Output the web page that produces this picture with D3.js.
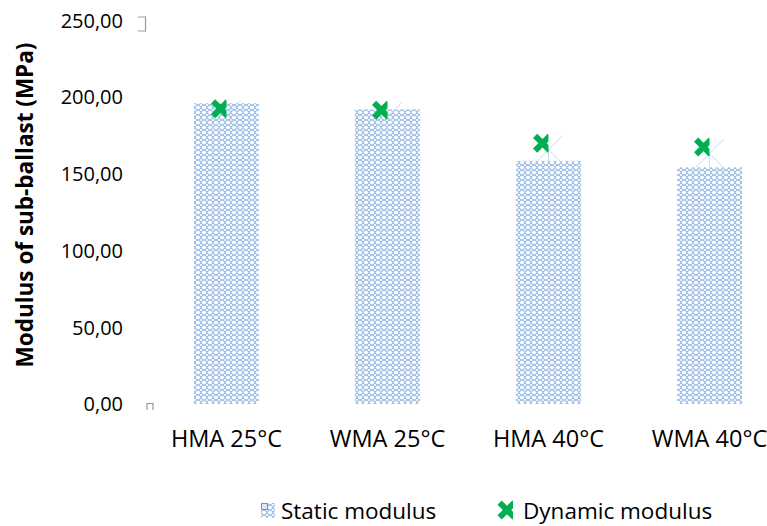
<!DOCTYPE html>
<html><head><meta charset="utf-8">
<script src="https://cdn.jsdelivr.net/npm/d3@7"></script>
<style>
html,body{margin:0;padding:0;background:#fff;}
svg{display:block;font-family:"Open Sans",sans-serif;}
</style></head>
<body>
<svg id="chart" width="767" height="526"></svg>
<script>
const categories = ["HMA 25°C","WMA 25°C","HMA 40°C","WMA 40°C"];
const staticModulus = [196, 192, 158.5, 154.5];
const dynamicModulus = [192.5, 191.5, 170, 167.5];
const yTicks = [0, 50, 100, 150, 200, 250];
const seriesNames = ["Static modulus", "Dynamic modulus"];

const svg = d3.select("#chart");
const x = d3.scaleBand().domain(categories).range([146, 790]).paddingInner(0.596).paddingOuter(0.298);
const y = d3.scaleLinear().domain([0, 250]).range([404, 20.5]);
const fmt = v => d3.format(".2f")(v).replace(".", ",");

const defs = svg.append("defs");
const pat = defs.append("pattern").attr("id","lattice").attr("patternUnits","userSpaceOnUse")
  .attr("width",6).attr("height",5);
pat.append("rect").attr("width",6).attr("height",5).attr("fill","#fff");
pat.append("path").attr("d","M0,0 Q3,1.2 3,2.5 Q3,3.8 6,5 M0,5 Q3,3.8 3,2.5 Q3,1.2 6,0").attr("stroke","#92b8e6").attr("stroke-width",1.05).attr("fill","none");

defs.append("clipPath").attr("id","mclip").append("rect").attr("x",-11).attr("y",-11).attr("width",17).attr("height",22);

const s = 9.5, t = 4.2;
const xPath = `M${-s},${-s+t} L${-s+t},${-s} L0,${-t} L${s-t},${-s} L${s},${-s+t} L${t},0 L${s},${s-t} L${s-t},${s} L0,${t} L${-s+t},${s} L${-s},${s-t} L${-t},0 Z`;

// y axis tick labels
svg.append("g").selectAll("text").data(yTicks).join("text")
  .attr("x",123).attr("y",d=>y(d)).attr("dy","0.36em").attr("text-anchor","end")
  .attr("font-size",20).attr("fill","#000").text(fmt);

// y title
svg.append("text").attr("transform",`translate(33,205) rotate(-90)`).attr("text-anchor","middle")
  .attr("font-size",22.5).attr("font-weight","bold").attr("fill","#000").text("Modulus of sub-ballast (MPa)");

// small gray artifacts near axis
svg.append("path").attr("d","M138,17 H145.5 V31.5 M138,31 H145").attr("fill","none").attr("stroke","#999").attr("stroke-width",1.2);
svg.append("path").attr("d","M147,410 V403.5 H153 V410").attr("fill","none").attr("stroke","#999").attr("stroke-width",1.2);

// bars
svg.append("g").selectAll("rect").data(categories).join("rect")
  .attr("x",d=>x(d)).attr("width",x.bandwidth())
  .attr("y",(d,i)=>y(staticModulus[i])).attr("height",(d,i)=>y(0)-y(staticModulus[i]))
  .attr("fill","url(#lattice)");

// light blue X and drop line
const lg = svg.append("g").attr("stroke","#c5dcf2").attr("stroke-width",1).attr("fill","none");
categories.forEach((c,i)=>{
  const cx = x(c)+x.bandwidth()/2, cy = y(dynamicModulus[i])+6.5;
  const a = 14;
  lg.append("path").attr("d",`M${cx-a},${cy+a} L${cx+a},${cy-a} M${cx-a},${cy-a} L${cx+a},${cy+a}`);
  lg.append("line").attr("x1",cx).attr("x2",cx).attr("y1",cy).attr("y2",y(staticModulus[i]));
});

// green markers
svg.append("g").selectAll("g").data(categories).join("g")
  .attr("transform",(d,i)=>`translate(${x(d)+x.bandwidth()/2-6},${y(dynamicModulus[i])})`)
  .append("path").attr("d",xPath).attr("fill","#00b050").attr("clip-path","url(#mclip)");

// x labels
svg.append("g").selectAll("text").data(categories).join("text")
  .attr("x",d=>x(d)+x.bandwidth()/2).attr("y",447).attr("text-anchor","middle")
  .attr("font-size",23.5).attr("fill","#000").text(d=>d);

// legend
const leg = svg.append("g");
leg.append("rect").attr("x",261).attr("y",503).attr("width",14).attr("height",15).attr("fill","url(#lattice)");
leg.append("rect").attr("x",261.5).attr("y",503.5).attr("width",6).attr("height",6).attr("fill","#dbe9f7").attr("stroke","#5b9bd5").attr("stroke-width",1);
leg.append("text").attr("x",281).attr("y",519).attr("font-size",22.5).attr("fill","#000").text(seriesNames[0]);
leg.append("g").attr("transform","translate(507,510)").append("path").attr("d",xPath).attr("fill","#00b050").attr("clip-path","url(#mclip)");
leg.append("text").attr("x",523).attr("y",519).attr("font-size",22.5).attr("fill","#000").text(seriesNames[1]);
</script>
</body></html>
